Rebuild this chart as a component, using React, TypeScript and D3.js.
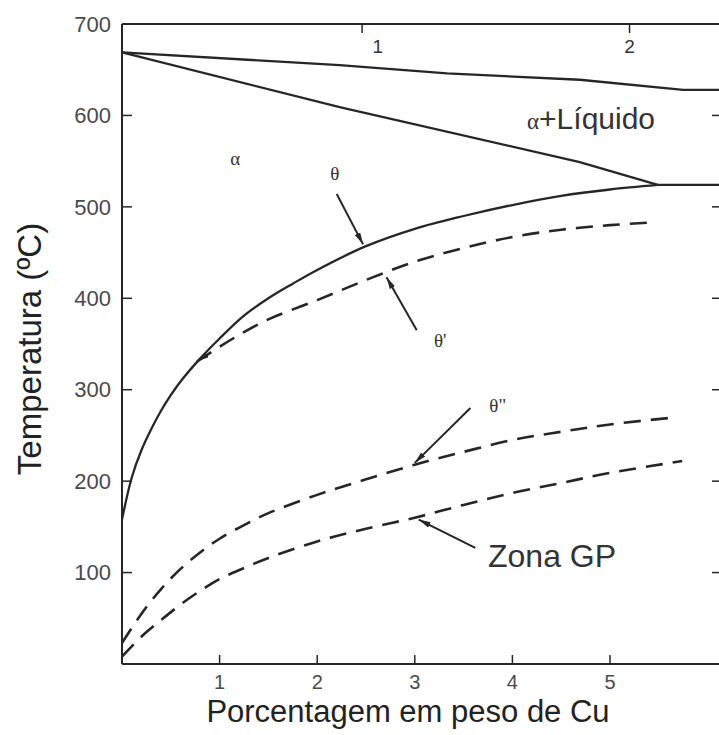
import React, { useEffect, useRef } from 'react';
import * as d3 from 'd3';

// ---- data (x: wt% Cu, y: temperature °C) ----
const xTicks = [1, 2, 3, 4, 5];
const yTicks = [100, 200, 300, 400, 500, 600, 700];
const topTickWt = [2.46, 5.2];
const topTickLabels = ['1', '2'];
const topLabelWt = [2.62, 5.2];

const liquidus: [number, number][] = [[0, 669], [2.23, 655], [3.33, 646], [4.69, 639], [5.75, 628], [6.3, 628]];
const solidus: [number, number][] = [[0, 669], [2.23, 609], [4.69, 549], [5.49, 524]];
const eutectic: [number, number][] = [[5.49, 524], [6.3, 524]];
const thetaSolvus: [number, number][] = [
  [0, 158], [0.1, 204], [0.2, 234], [0.3, 257], [0.4, 277], [0.5, 294], [0.6, 309], [0.8, 334],
  [1.0, 356], [1.25, 381], [1.5, 400], [1.75, 416], [2.0, 431], [2.5, 457], [3.0, 476], [3.5, 490],
  [4.0, 502], [4.5, 512], [5.0, 519], [5.49, 524],
];
const thetaPrime: [number, number][] = [
  [0.77, 331], [1.0, 347], [1.25, 363], [1.5, 377], [2.0, 398], [2.5, 420], [3.0, 440],
  [3.5, 455], [4.0, 467], [4.5, 475], [5.0, 480], [5.44, 483],
];
const thetaDoublePrime: [number, number][] = [
  [0, 23], [0.2, 55], [0.4, 82], [0.6, 104], [0.8, 122], [1.0, 137], [1.25, 152], [1.5, 165],
  [2.0, 185], [2.5, 202], [3.0, 218], [3.5, 232], [4.0, 245], [4.5, 254], [5.0, 262], [5.69, 270],
];
const gpZone: [number, number][] = [
  [0, 8], [0.2, 30], [0.4, 48], [0.6, 65], [0.8, 80], [1.0, 93], [1.25, 105], [1.5, 116],
  [2.0, 134], [2.5, 148], [3.0, 160], [3.5, 174], [4.0, 187], [4.5, 198], [5.0, 209], [5.74, 222],
];

// annotation arrows: [tail, tip] in data units
const arrowTheta: [number, number][] = [[2.2, 514], [2.47, 459]];
const arrowThetaP: [number, number][] = [[3.02, 365], [2.71, 423]];
const arrowThetaPP: [number, number][] = [[3.57, 280], [3.0, 220]];
const arrowGP: [number, number][] = [[3.62, 127], [3.04, 158]];

const W = 719, H = 735;

export default function App() {
  const ref = useRef<SVGSVGElement>(null);
  useEffect(() => {
    const svg = d3.select(ref.current);
    svg.selectAll('*').remove();
    const x = d3.scaleLinear().domain([0, 6]).range([122, 707.6]);
    const y = d3.scaleLinear().domain([0, 700]).range([664, 24]);
    const sans = '"Liberation Sans", Arial, sans-serif';
    const serif = '"Liberation Serif", "DejaVu Serif", serif';
    const ink = '#262626';

    svg.append('rect').attr('width', W).attr('height', H).attr('fill', '#fff');

    const defs = svg.append('defs');
    defs.append('marker').attr('id', 'ah').attr('viewBox', '0 0 12 6').attr('refX', 12).attr('refY', 3)
      .attr('markerWidth', 12).attr('markerHeight', 6).attr('markerUnits', 'userSpaceOnUse')
      .attr('orient', 'auto-start-reverse')
      .append('path').attr('d', 'M0,0 L12,3 L0,6 Z').attr('fill', ink);

    const line = d3.line<[number, number]>().x(d => x(d[0])).y(d => y(d[1]));
    const curve = d3.line<[number, number]>().x(d => x(d[0])).y(d => y(d[1])).curve(d3.curveCatmullRom.alpha(0.5));

    const g = svg.append('g');
    // frame
    g.append('line').attr('x1', x(0)).attr('x2', x(0)).attr('y1', y(700)).attr('y2', y(0)).attr('stroke', ink).attr('stroke-width', 2);
    g.append('line').attr('x1', x(0)).attr('x2', W).attr('y1', y(0)).attr('y2', y(0)).attr('stroke', ink).attr('stroke-width', 2);
    g.append('line').attr('x1', x(0)).attr('x2', W).attr('y1', y(700)).attr('y2', y(700)).attr('stroke', ink).attr('stroke-width', 2);

    // left / right ticks + labels
    yTicks.forEach(t => {
      if (t < 700) {
        g.append('line').attr('x1', x(0)).attr('x2', x(0) + 10).attr('y1', y(t)).attr('y2', y(t)).attr('stroke', ink).attr('stroke-width', 1.5);
        g.append('line').attr('x1', W - 7).attr('x2', W).attr('y1', y(t)).attr('y2', y(t)).attr('stroke', ink).attr('stroke-width', 1.5);
      }
      g.append('text').attr('x', 111).attr('y', y(t)).attr('dy', '0.35em').attr('text-anchor', 'end')
        .attr('font-family', sans).attr('font-size', 22).attr('fill', '#4a4a4a').text(String(t));
    });
    // bottom ticks + labels
    xTicks.forEach(t => {
      g.append('line').attr('x1', x(t)).attr('x2', x(t)).attr('y1', y(0)).attr('y2', y(0) - 9).attr('stroke', ink).attr('stroke-width', 1.5);
      g.append('text').attr('x', x(t)).attr('y', 689).attr('text-anchor', 'middle')
        .attr('font-family', sans).attr('font-size', 20).attr('fill', '#4a4a4a').text(String(t));
    });
    // top ticks + labels
    topTickWt.forEach((t, i) => {
      g.append('line').attr('x1', x(t)).attr('x2', x(t)).attr('y1', y(700)).attr('y2', y(700) + 9).attr('stroke', ink).attr('stroke-width', 1.5);
      g.append('text').attr('x', x(topLabelWt[i])).attr('y', 53).attr('text-anchor', 'middle')
        .attr('font-family', sans).attr('font-size', 19).attr('fill', '#333').text(topTickLabels[i]);
    });

    // phase boundaries
    const solid = (d: [number, number][], gen = line) => g.append('path').attr('d', gen(d)!).attr('fill', 'none').attr('stroke', ink).attr('stroke-width', 2.3);
    solid(liquidus);
    solid(solidus);
    solid(eutectic);
    solid(thetaSolvus, curve);
    const dashed = (d: [number, number][]) => g.append('path').attr('d', curve(d)!).attr('fill', 'none').attr('stroke', ink).attr('stroke-width', 2.6).attr('stroke-dasharray', '17,10');
    dashed(thetaPrime).attr('marker-start', 'url(#ah)');
    dashed(thetaDoublePrime);
    dashed(gpZone);

    // arrows
    [arrowTheta, arrowThetaP, arrowThetaPP, arrowGP].forEach(a => {
      g.append('path').attr('d', line(a)!).attr('stroke', ink).attr('stroke-width', 2).attr('fill', 'none').attr('marker-end', 'url(#ah)');
    });

    // labels
    const lab = (tx: string, xv: number, yv: number, fam: string, size: number, anchor = 'middle') =>
      g.append('text').attr('x', x(xv)).attr('y', y(yv)).attr('dy', '0.35em').attr('text-anchor', anchor)
        .attr('font-family', fam).attr('font-size', size).attr('fill', '#333').text(tx);
    lab('α', 1.16, 553, serif, 19);
    lab('θ', 2.18, 537, serif, 19);
    lab("θ'", 3.26, 354, serif, 19);
    lab('θ"', 3.85, 283, serif, 19);
    const al = g.append('text').attr('x', x(4.15)).attr('y', y(591)).attr('dy', '0.35em').attr('fill', '#333');
    al.append('tspan').attr('font-family', serif).attr('font-size', 23).text('α');
    al.append('tspan').attr('font-family', sans).attr('font-size', 30).text('+Líquido');
    lab('Zona GP', 3.75, 118, sans, 32, 'start');

    // axis titles
    g.append('text').attr('x', 408).attr('y', 722).attr('text-anchor', 'middle').attr('font-family', sans)
      .attr('font-size', 31).attr('fill', '#222').text('Porcentagem em peso de Cu');
    g.append('text').attr('transform', 'translate(41,349) rotate(-90)').attr('text-anchor', 'middle').attr('font-family', sans)
      .attr('font-size', 33).attr('fill', '#222').text('Temperatura (ºC)');
  }, []);
  return <svg ref={ref} width={W} height={H} style={{ position: 'absolute', left: 0, top: 0, background: '#fff' }} />;
}
